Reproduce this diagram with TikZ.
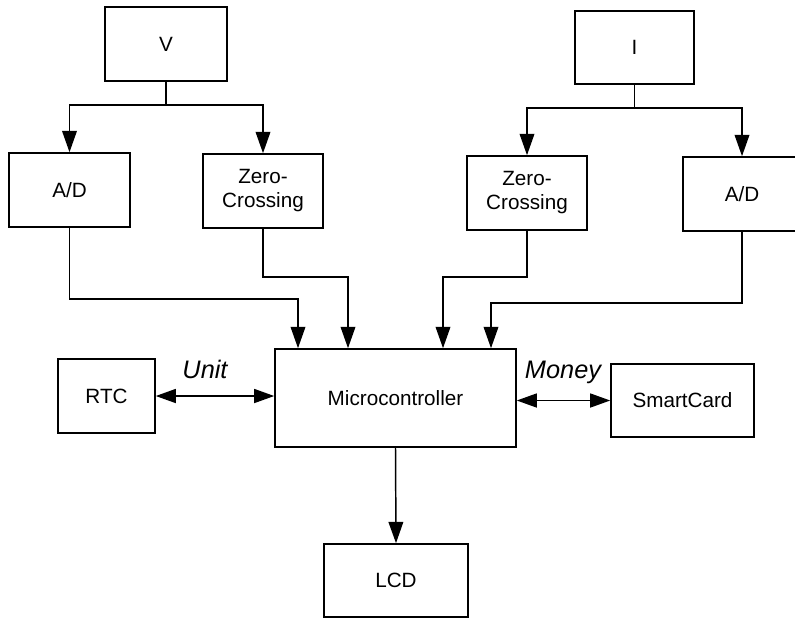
\documentclass[tikz,border=0pt]{standalone}
\usepackage{fontspec}
\setmainfont{Liberation Sans}
\usetikzlibrary{arrows.meta}
\begin{document}
\begin{tikzpicture}[x=0.75pt,y=-0.75pt,
  box/.style={draw, line width=1.2pt, inner sep=0pt, align=center,
    font=\fontsize{15.5}{18}\selectfont},
  conn/.style={line width=1.1pt},
  arr/.style={conn, -{Triangle[length=16pt,width=11pt]}},
  arrtwo/.style={conn, {Triangle[length=15pt,width=10.5pt]}-{Triangle[length=15pt,width=10.5pt]}},
  lbl/.style={font=\fontsize{19}{22}\selectfont\itshape}]
\useasboundingbox (0,0) rectangle (795,619);
\clip (0,0) rectangle (795,619);
% boxes
\node[box, minimum width=91.5pt, minimum height=55.5pt] (V) at (166,44) {V};
\node[box, minimum width=89.25pt, minimum height=54.75pt] (I) at (634.5,47.5) {I};
\node[box, minimum width=90.75pt, minimum height=55.5pt] (ADL) at (69.5,190) {A/D};
\node[box, minimum width=90pt, minimum height=55.5pt] (ZCL) at (263,191) {Zero-\\Crossing};
\node[box, minimum width=90pt, minimum height=55.5pt] (ZCR) at (527,193) {Zero-\\Crossing};
\node[box, minimum width=88.5pt, minimum height=55.5pt] (ADR) at (742,194) {A/D};
\node[box, minimum width=180.75pt, minimum height=73.5pt] (MC) at (395.5,398) {Microcontroller};
\node[box, minimum width=72.75pt, minimum height=55.5pt] (RTC) at (106.5,396) {RTC};
\node[box, minimum width=107.25pt, minimum height=54.75pt] (SC) at (682.5,400.5) {SmartCard};
\node[box, minimum width=108pt, minimum height=54.75pt] (LCD) at (396,580.5) {LCD};
% junctions
\coordinate (vj) at (166,105);
\coordinate (ij) at (634.5,108);
\coordinate (mA) at (298,299);
\coordinate (mB) at (348,277);
\coordinate (mC) at (443,277);
\coordinate (mD) at (491,303);
% connectors
\draw[conn] (V.south) -- (vj);
\draw[arr] (vj) -| (ADL.north);
\draw[arr] (vj) -| (ZCL.north);
\draw[conn] (I.south) -- (ij);
\draw[arr] (ij) -| (ZCR.north);
\draw[arr] (ij) -| (ADR.north);
\draw[arr] (ADL.south) |- (mA) -- (mA |- MC.north);
\draw[arr] (ZCL.south) |- (mB) -- (mB |- MC.north);
\draw[arr] (ZCR.south) |- (mC) -- (mC |- MC.north);
\draw[arr] (ADR.south) |- (mD) -- (mD |- MC.north);
\draw[arrtwo] (RTC.east) -- (RTC.east -| MC.west);
\draw[arrtwo] (SC.west -| MC.east) -- (SC.west);
\draw[arr] (MC.south) -- (LCD.north);
% labels
\node[lbl] (unit) at (205,369) {Unit};
\node[lbl] (money) at (563,372) {Money};
\end{tikzpicture}
\end{document}
